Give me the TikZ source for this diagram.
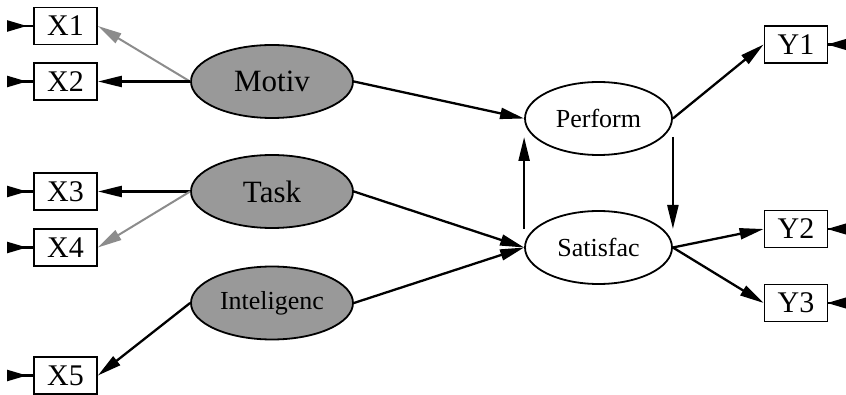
\documentclass[tikz,border=0pt]{standalone}
\usepackage{fontspec}
\setmainfont{Liberation Serif}
\usetikzlibrary{arrows.meta,shapes.geometric}
\definecolor{latgray}{RGB}{153,153,153}
\definecolor{arrgray}{RGB}{140,140,140}
\tikzset{
  obs/.style={draw, line width=1.8pt, minimum width=63pt, minimum height=37pt, inner sep=0pt, font=\fontsize{30}{30}\selectfont},
  lat/.style={draw, ellipse, line width=1.8pt, fill=latgray, minimum width=162pt, minimum height=73pt, inner sep=0pt},
  endo/.style={draw, ellipse, line width=1.8pt, fill=white, minimum width=147pt, minimum height=73pt, inner sep=0pt, font=\fontsize{26}{26}\selectfont},
  bigtxt/.style={font=\fontsize{31}{31}\selectfont},
  smalltxt/.style={font=\fontsize{26}{26}\selectfont},
  arr/.style={line width=2.3pt, -{Triangle[length=24pt,width=11pt]}},
  garr/.style={line width=2pt, draw=arrgray, -{Triangle[length=24pt,width=11pt,fill=arrgray]}},
  err/.style={line width=2.3pt, {Triangle[reversed,length=20pt,width=11pt]}-}
}
\begin{document}
\begin{tikzpicture}[x=1pt,y=-1pt]
\useasboundingbox (0,0) rectangle (846,395);
% observed
\node[obs] (X1) at (65.5,26) {X1};
\node[obs] (X2) at (65.5,81.5) {X2};
\node[obs] (X3) at (65.5,191.5) {X3};
\node[obs] (X4) at (65.5,247.5) {X4};
\node[obs] (X5) at (65.5,375.5) {X5};
\node[obs] (Y1) at (796,44.5) {Y1};
\node[obs] (Y2) at (796,229) {Y2};
\node[obs] (Y3) at (796,303) {Y3};
% latent
\node[lat,bigtxt] (M) at (272,81.5) {Motiv};
\node[lat,bigtxt] (T) at (272,191.5) {Task};
\node[lat,smalltxt] (I) at (272,303) {Inteligenc};
\node[endo] (P) at (598.5,118.5) {Perform};
\node[endo] (S) at (598.5,247.5) {Satisfac};
% error coordinates
\coordinate (e1) at (7,26);
\coordinate (e2) at (7,81.5);
\coordinate (e3) at (7,191.5);
\coordinate (e4) at (7,247.5);
\coordinate (e5) at (7,375.5);
\coordinate (f1) at (847,44.5);
\coordinate (f2) at (847,229);
\coordinate (f3) at (847,303);
\foreach \e/\b in {e1/X1,e2/X2,e3/X3,e4/X4,e5/X5}
  \draw[err] (\e) -- (\b.west);
\foreach \e/\b in {f1/Y1,f2/Y2,f3/Y3}
  \draw[err] (\e) -- (\b.east);
% loadings
\draw[garr] (M.west) -- (X1.east);
\draw[arr] (M.west) -- (X2.east);
\draw[arr] (T.west) -- (X3.east);
\draw[garr] (T.west) -- (X4.east);
\draw[arr] (I.west) -- (X5.east);
\draw[arr] (P.east) -- (Y1.west);
\draw[arr] (S.east) -- (Y2.west);
\draw[arr] (S.east) -- (Y3.west);
% structural
\draw[arr] (M.east) -- (P.west);
\draw[arr] (T.east) -- (S.west);
\draw[arr] (I.east) -- (S.west);
\draw[arr] ([yshift=18.5pt]S.west) -- ([yshift=-18.5pt]P.west);
\draw[arr] ([yshift=-18.5pt]P.east) -- ([yshift=18.5pt]S.east);
\end{tikzpicture}
\end{document}
